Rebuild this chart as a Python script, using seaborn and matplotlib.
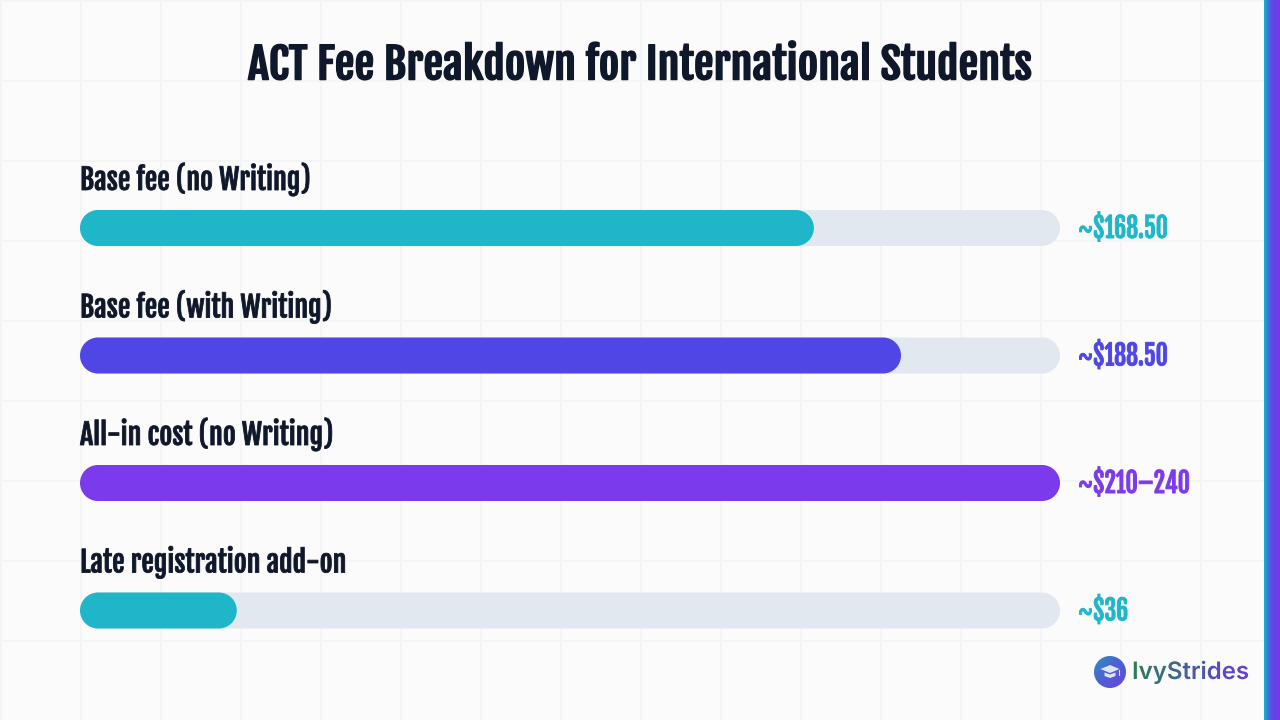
import matplotlib
matplotlib.use('Agg')
import matplotlib.pyplot as plt
import matplotlib.patheffects as pe
import numpy as np
import pandas as pd
import seaborn as sns
from matplotlib.colors import LinearSegmentedColormap
from matplotlib.patches import Circle, FancyBboxPatch, Polygon
from matplotlib.path import Path
from matplotlib.transforms import Affine2D, Bbox

title = 'ACT Fee Breakdown for International Students'
labels = ['Base fee (no Writing)', 'Base fee (with Writing)', 'All-in cost (no Writing)', 'Late registration add-on']
values = [168.5, 188.5, 225, 36]
value_labels = ['~\\$168.50', '~\\$188.50', '~\\$210–240', '~\\$36']
track_values = [225, 225, 225, 225]
colors = ['#20b6c9', '#4f46e5', '#7c3aed', '#20b6c9']

INK = '#0f172a'
TRACK = '#e2e8f0'
BG = '#fbfbfc'
GRID = '#f4f5f6'
COND = ['Fjalla One', 'Liberation Sans Narrow', 'DejaVu Sans']
PX = 72 / 100  # points per pixel at dpi 100


class Squeeze(pe.AbstractPathEffect):
    # scales glyphs sideways from the text origin and thickens them a little
    def __init__(self, sx, stroke):
        self.sx, self.stroke = sx, stroke

    def draw_path(self, renderer, gc, tpath, affine, rgbFace=None):
        m = affine.get_matrix().copy()
        m[0, 0] *= self.sx
        g = renderer.new_gc()
        g.copy_properties(gc)
        g.set_foreground(rgbFace)
        g.set_linewidth(self.stroke)
        g.set_joinstyle('round')
        renderer.draw_path(g, tpath, Affine2D(m), rgbFace)
        g.restore()


class GradientText(pe.AbstractPathEffect):
    # fills one text in thin vertical strips, so the word stays a single text
    def __init__(self, x0, x1, cmap):
        self.x0, self.x1, self.cmap = x0, x1, cmap

    def draw_path(self, renderer, gc, tpath, affine, rgbFace=None):
        for x in range(int(self.x0), int(self.x1), 2):
            g = renderer.new_gc()
            g.copy_properties(gc)
            g.set_clip_rectangle(Bbox([[x, 0], [x + 2, 720]]))
            c = self.cmap((x - self.x0) / (self.x1 - self.x0))
            renderer.draw_path(g, tpath, affine, c)
            g.restore()


def pill_path(x0, y0, w, h, mutation_size):
    # full half-circle ends, x0/y0 already in the patch's corrected aspect
    r = h / 2
    k = r * 0.5523
    x1, y1, ym = x0 + w, y0 + h, y0 + r
    verts = [(x0 + r, y0), (x1 - r, y0),
             (x1 - r + k, y0), (x1, ym - k), (x1, ym),
             (x1, ym + k), (x1 - r + k, y1), (x1 - r, y1),
             (x0 + r, y1),
             (x0 + r - k, y1), (x0, ym + k), (x0, ym),
             (x0, ym - k), (x0 + r - k, y0), (x0 + r, y0),
             (x0 + r, y0)]
    codes = [Path.MOVETO, Path.LINETO] + [Path.CURVE4] * 6 + [Path.LINETO] + [Path.CURVE4] * 6 + [Path.CLOSEPOLY]
    return Path(verts, codes)


sns.set_theme(style='white')
fig = plt.figure(figsize=(12.8, 7.2), dpi=100, facecolor=BG)

# page background: faint square grid, right edge strip, logo (pixel coordinates)
bg = fig.add_axes([0, 0, 1, 1], facecolor=BG)
bg.set_xlim(0, 1280)
bg.set_ylim(720, 0)
bg.set_xticks(np.arange(1, 1281, 80))
bg.set_yticks(np.arange(1, 721, 80))
bg.grid(True, color=GRID, linewidth=2 * PX)
bg.tick_params(length=0, labelbottom=False, labelleft=False)
sns.despine(ax=bg, left=True, bottom=True)

strip = LinearSegmentedColormap.from_list('strip', ['#14b0d0', '#4f5fe5', '#6d3be8', '#6d3be8'])
bg.imshow(np.linspace(0, 1, 16).reshape(1, -1), cmap=strip, extent=(1264, 1280, 720, 0), aspect='auto', zorder=3)

badge = LinearSegmentedColormap.from_list('badge', ['#2a8fc0', '#4f5fd5', '#6a45d8'])
grad = np.add.outer(np.linspace(0, 1, 40), np.linspace(0, 1, 40)) / 2
im = bg.imshow(grad, cmap=badge, extent=(1094, 1126, 688, 656), aspect='auto', zorder=3)
im.set_clip_path(Circle((1110, 672), 16, transform=bg.transData))
cap = '#dfe5f2'
bg.add_patch(Polygon([(1100.5, 669), (1110, 665), (1119.5, 669), (1110, 673)], color=cap, zorder=4, lw=0))
bg.add_patch(Polygon([(1104.5, 672.5), (1110, 674.5), (1115.5, 672.5), (1115.5, 676), (1110, 678), (1104.5, 676)],
                     color=cap, zorder=4, lw=0))
bg.plot([1118.5, 1118.5], [669.5, 675], color=cap, lw=0.8, zorder=4)
bg.set_xlim(0, 1280)
bg.set_ylim(720, 0)

word = LinearSegmentedColormap.from_list('word', ['#2e7d55', '#3f6a85', '#5550b5', '#6b3fd8'])
bg.text(1132, 679, 'IvyStrides', family=['Inter', 'DejaVu Sans'], weight='semibold', fontsize=24 * PX,
        color='#4a5fa0', zorder=4, path_effects=[GradientText(1132, 1250, word)])
bg.text(248, 79.5, title, family=COND, fontsize=30, color=INK, ha='left', va='baseline', zorder=4,
        path_effects=[Squeeze(1.065, 1.1)])

# bars: one unit on y is 127.5 px, the axes runs over the bars' 980 px
ax = fig.add_axes([80 / 1280, 1 - 674.25 / 720, 980 / 1280, 510 / 720], facecolor='none')
df = pd.DataFrame({'label': labels, 'value': values, 'track': track_values})
bar_width = 36 / 127.5
sns.barplot(data=df, x='track', y='label', color=TRACK, saturation=1, width=bar_width, ax=ax)
sns.barplot(data=df, x='value', y='label', hue='label', palette=colors, saturation=1, width=bar_width,
            dodge=False, legend=False, ax=ax)
ax.set_xlim(0, 225)
ax.set_ylim(3.5, -0.5)
ax.axis('off')

# swap the square bars for pills of the same size
px_x = 980 / 225
px_y = 127.5
for bar in list(ax.patches):
    x, y, w, h = bar.get_x(), bar.get_y(), bar.get_width(), bar.get_height()
    pill = FancyBboxPatch((x, y), w, h, boxstyle=pill_path, mutation_aspect=px_x / px_y,
                          facecolor=bar.get_facecolor(), edgecolor='none', clip_on=False, zorder=bar.get_zorder())
    bar.remove()
    ax.add_patch(pill)

for i, (label, text, color) in enumerate(zip(labels, value_labels, colors)):
    ax.annotate(label, (0, i), xytext=(0, 38 * PX), textcoords='offset points', family=COND, fontsize=20.5,
                color=INK, va='baseline', annotation_clip=False, path_effects=[Squeeze(0.985, 0.6)])
    ax.annotate(text, (225, i), xytext=(18 * PX, -10 * PX), textcoords='offset points', family=COND, fontsize=20,
                color=color, va='baseline', annotation_clip=False, path_effects=[Squeeze(0.855, 0.7)])

fig.savefig('out.png', dpi=100, facecolor=BG)
